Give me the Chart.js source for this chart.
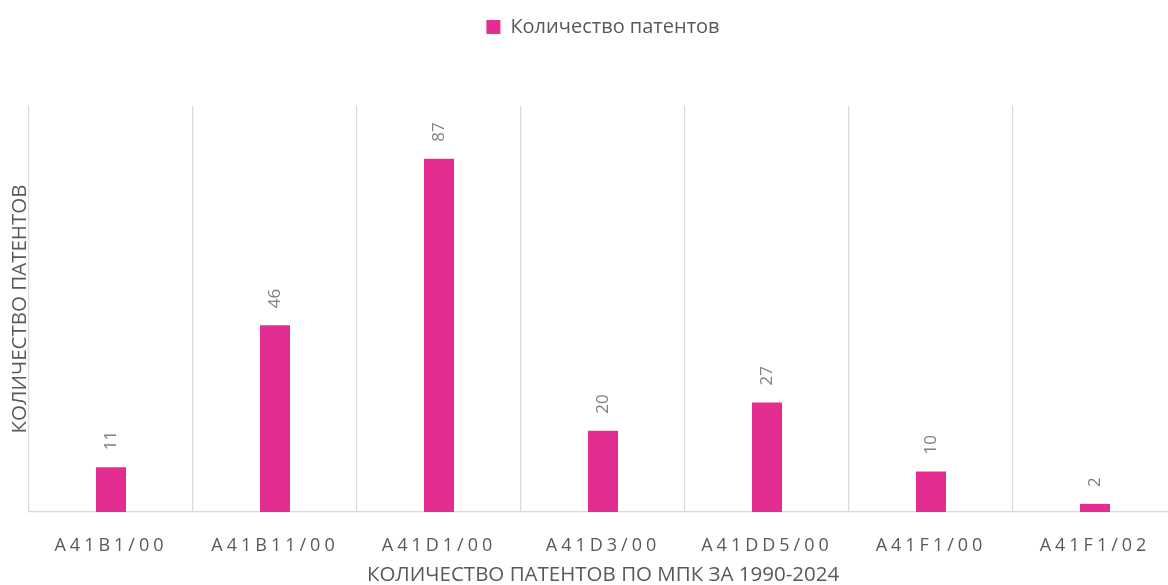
<!DOCTYPE html>
<html>
<head>
<meta charset="utf-8">
<script src="https://cdn.jsdelivr.net/npm/chart.js@4/dist/chart.umd.min.js"></script>
<style>
html,body{margin:0;padding:0;background:#fff;overflow:hidden}
#wrap{position:absolute;left:0;top:0;width:1220px;height:585px}
</style>
</head>
<body>
<div id="wrap"><canvas id="c" width="1220" height="585"></canvas></div>
<script>
const categories=['A41B1/00','A41B11/00','A41D1/00','A41D3/00','A41DD5/00','A41F1/00','A41F1/02'];
const patentCounts=[11,46,87,20,27,10,2];
const seriesName='Количество патентов';
const xTitle='КОЛИЧЕСТВО ПАТЕНТОВ ПО МПК ЗА 1990-2024';
const yTitle='КОЛИЧЕСТВО ПАТЕНТОВ';
const yMin=0,yMax=100;

const FONT='"Open Sans", "Noto Sans", sans-serif';
const TXT='#595959',PINK='#E32D91',GRID='#D9D9D9';

// legend gap + rotated value labels + letter spaced x ticks
const extras={
  id:'extras',
  beforeInit(chart){
    const fit=chart.legend.fit;
    chart.legend.fit=function(){fit.call(this);this.height+=59};
  },
  afterDatasetsDraw(chart){
    const ctx=chart.ctx,meta=chart.getDatasetMeta(0);
    ctx.save();
    ctx.font='17px '+FONT;
    ctx.fillStyle='#7F7F7F';
    ctx.textAlign='left';ctx.textBaseline='middle';
    meta.data.forEach((bar,i)=>{
      ctx.save();
      ctx.translate(bar.x,bar.y-17);
      ctx.rotate(-Math.PI/2);
      ctx.fillText(String(patentCounts[i]),0,0);
      ctx.restore();
    });
    ctx.restore();
    ctx.letterSpacing='4px';
  },
  afterDraw(chart){chart.ctx.letterSpacing='0px'}
};

new Chart(document.getElementById('c').getContext('2d'),{
  type:'bar',
  data:{labels:categories,datasets:[{label:seriesName,data:patentCounts,backgroundColor:PINK,borderWidth:0,categoryPercentage:1,barPercentage:0.183}]},
  options:{
    responsive:false,animation:false,
    layout:{padding:{left:10,right:43,top:7,bottom:0}},
    plugins:{
      legend:{position:'top',fullSize:false,labels:{color:TXT,font:{family:FONT,size:20},boxWidth:14,boxHeight:14,padding:10}},
      tooltip:{enabled:false}
    },
    scales:{
      x:{
        afterFit(s){s.height=73},
        grid:{display:true,offset:true,color:GRID,lineWidth:1.2,drawTicks:false},
        border:{display:true,color:GRID,width:1.2},
        ticks:{z:1,color:TXT,font:{family:FONT,size:18},padding:23,maxRotation:0,autoSkip:false},
        title:{display:true,text:xTitle,color:TXT,font:{family:FONT,size:20.5,lineHeight:1},padding:{top:0,bottom:0}}
      },
      y:{
        afterFit(s){s.width=19},
        min:yMin,max:yMax,
        grid:{display:false,drawTicks:false},border:{display:false},
        ticks:{display:false},
        title:{display:true,text:yTitle,color:TXT,font:{family:FONT,size:20.5,lineHeight:1},padding:{top:0,bottom:0}}
      }
    }
  },
  plugins:[extras]
});
</script>
</body>
</html>
